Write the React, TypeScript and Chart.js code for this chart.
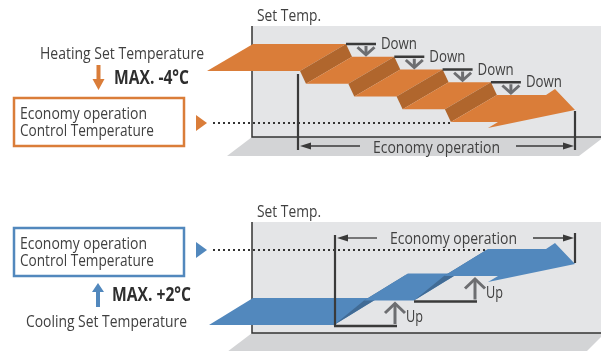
import React, { useEffect, useRef } from "react";
import { Chart, registerables } from "chart.js";

Chart.register(...registerables);

// ---------------- DATA ----------------
const heatingLevels = [0, -1, -2, -3, -4]; // °C relative to the heating set temperature
const coolingLevels = [0, 1, 2]; // °C relative to the cooling set temperature
const heatingStepLabels = ["Down", "Down", "Down", "Down"];
const coolingStepLabels = ["Up", "Up"];
const axisTitle = "Set Temp.";
const periodTitle = "Economy operation";
const controlLines = ["Economy operation", "Control Temperature"];
const heatingTitle = "Heating Set Temperature";
const heatingMaxText = "MAX. -4°C";
const coolingTitle = "Cooling Set Temperature";
const coolingMaxText = "MAX. +2°C";

// ---------------- STYLE ----------------
const COL = {
  orange: "#da7d39",
  orangeDark: "#b0662d",
  blue: "#5288bd",
  blueDark: "#416b95",
  wall: "#e4e5e7",
  floor: "#d3d4d6",
  ink: "#3a3a3a",
  edge: "#333333",
  text: "#404040",
  bold: "#2e2e2e",
  arrow: "#6d6e71",
};
const FONT = "'Open Sans', 'Noto Sans', sans-serif";
const REG_FONT = `17px ${FONT}`;
const BOLD_FONT = `bold 19.5px ${FONT}`;

// ---------------- LAYOUT (diagram units) ----------------
type P = [number, number];
const HEAT = {
  wallX: 252, wallTop: 26, floorY: 137, floorLeft: 227, floorRightTop: 604, floorRightBot: 579, floorBot: 156,
  startX: 253, topY: 44, pxPerDeg: 12.75, firstTR: 346, trSpacing: 48.3, riserDx: 6, depthDx: -46, depth: 27, tipX: 575,
  fill: COL.orange, riser: COL.orangeDark,
  ecoStart: 298, ecoStartTop: 74, ecoEnd: 575, ecoEndTop: 111, ecoBottom: 150, ecoArrowY: 146,
  ecoLeftEnd: 360, ecoRightStart: 516, ecoTextX: 373, ecoTextY: 152.7,
  dotY: 123, dotX0: 213, dotX1: 451,
  boxTop: 98, boxBottom: 146, boxText1: 119.3, boxText2: 136,
  axisY: 20.7,
};
const COOL = {
  wallX: 252, wallTop: 222, floorY: 333, floorLeft: 227, floorRightTop: 605, floorRightBot: 586, floorBot: 352,
  startX: 253, topY: 298, pxPerDeg: 24.5, firstTR: 378, trSpacing: 80, riserDx: 30, depthDx: -44, depth: 27, tipX: 575,
  fill: COL.blue, riser: COL.blueDark,
  ecoStart: 335, ecoStartTop: 235, ecoEnd: 575, ecoEndTop: 233, ecoBottom: 326, ecoEndBottom: 263, ecoArrowY: 238,
  ecoLeftEnd: 377, ecoRightStart: 533, ecoTextX: 390, ecoTextY: 244,
  dotY: 250, dotX0: 213, dotX1: 488,
  boxTop: 228, boxBottom: 276, boxText1: 249, boxText2: 266,
  axisY: 216.7,
};

// ---------------- helpers ----------------
const pts = (p: P[]) => p.map(([x, y]) => ({ x, y }));
const poly = (p: P[], color: string) => ({
  data: pts(p),
  fill: "shape",
  backgroundColor: color,
  borderColor: "rgba(0,0,0,0)",
  borderWidth: 0,
  pointRadius: 0,
});
const path = (p: P[], color: string, width: number, dash: number[] = []) => ({
  data: pts(p),
  fill: false,
  borderColor: color,
  borderWidth: width,
  borderDash: dash,
  borderCapStyle: "butt",
  borderJoinStyle: "miter",
  pointRadius: 0,
});

type T = { text: string; x: number; y: number; w: number; font: string; color: string };
const texts: T[] = [];
const reg = (s: string, x: number, y: number, w: number) =>
  texts.push({ text: s, x, y, w, font: REG_FONT, color: COL.text });

function panelBase(L: any, out: any[]) {
  out.push(poly([[L.wallX, L.wallTop], [640, L.wallTop], [640, L.floorY], [L.wallX, L.floorY]], COL.wall));
  out.push(poly([[L.floorLeft, L.floorBot], [L.wallX, L.floorY], [L.floorRightTop, L.floorY], [L.floorRightBot, L.floorBot]], COL.floor));
  out.push(path([[L.wallX, L.wallTop], [L.wallX, L.floorY], [640, L.floorY]], COL.edge, 1.5));
  out.push(path([[L.dotX0, L.dotY], [L.dotX1, L.dotY]], COL.edge, 2, [2, 3]));
  reg(axisTitle, 257, L.axisY, 64);
}

function stairs(levels: number[], L: any, out: any[]) {
  const tops = levels.map((v) => L.topY - v * L.pxPerDeg);
  const trs = levels.map((_, k) => L.firstTR + k * L.trSpacing);
  const tls = levels.map((_, k) => (k === 0 ? L.startX : trs[k - 1] + L.riserDx));
  const D = L.depthDx, H = L.depth;
  levels.forEach((_, k) => {
    const t = tops[k], a = tls[k];
    if (k < levels.length - 1) {
      const b = trs[k];
      out.push(poly([[a, t], [b, t], [b + D, t + H], [a + D, t + H]], L.fill));
      const tn = tops[k + 1], an = b + L.riserDx;
      out.push(poly([[b + D, t + H], [b, t], [an, tn], [an + D, tn + H]], L.riser));
    } else {
      const X = L.tipX;
      out.push(poly([[a, t], [X - 29, t], [X - 20, t - 6], [X, t + 15], [X - 87, t + 33], [X - 77, t + 27], [a + D, t + H]], L.fill));
    }
  });
  return { tops, trs };
}

function ecoSpan(L: any, out: any[]) {
  out.push(path([[L.ecoStart, L.ecoStartTop], [L.ecoStart, L.ecoBottom]], COL.ink, 2.2));
  out.push(path([[L.ecoEnd, L.ecoEndTop], [L.ecoEnd, L.ecoEndBottom ?? L.ecoBottom]], COL.ink, 2.2));
  const y = L.ecoArrowY;
  const x0 = L.ecoStart + 2, x1 = L.ecoEnd - 1;
  out.push(path([[x0 + 8, y], [L.ecoLeftEnd, y]], COL.ink, 1.3));
  out.push(poly([[x0, y], [x0 + 11, y - 3.5], [x0 + 11, y + 3.5]], COL.ink));
  out.push(path([[L.ecoRightStart, y], [x1 - 8, y]], COL.ink, 1.3));
  out.push(poly([[x1, y], [x1 - 11, y - 3.5], [x1 - 11, y + 3.5]], COL.ink));
  reg(periodTitle, L.ecoTextX, L.ecoTextY, 127);
}

function leftSide(L: any, color: string, out: any[]) {
  const yc = L.dotY;
  out.push(poly([[196, yc - 8], [207, yc], [196, yc + 8]], color));
  out.push(path([[14, L.boxTop], [184, L.boxTop], [184, L.boxBottom], [14, L.boxBottom], [14, L.boxTop - 1.25]], color, 2.5));
  reg(controlLines[0], 20, L.boxText1, 127);
  reg(controlLines[1], 20, L.boxText2, 134);
}

function buildDatasets() {
  const out: any[] = [];

  // ---------- heating panel ----------
  panelBase(HEAT, out);
  const h = stairs(heatingLevels, HEAT, out);
  heatingStepLabels.forEach((lab, k) => {
    const b = h.trs[k], t = h.tops[k], tn = h.tops[k + 1];
    out.push(path([[b, t], [b + 30, t]], COL.ink, 2.5));
    const ax = b + 20;
    out.push(path([[ax, t + 2], [ax, tn - 2]], COL.arrow, 3));
    out.push(path([[ax - 8.5, tn - 9.5], [ax, tn - 2], [ax + 8.5, tn - 9.5]], COL.arrow, 3));
    reg(lab, b + 35, t + 5, 36);
  });
  ecoSpan(HEAT, out);
  leftSide(HEAT, COL.orange, out);
  out.push(poly([[96.5, 65], [100.5, 65], [100.5, 79], [104.5, 79], [98.5, 90], [92.5, 79], [96.5, 79]], COL.orange));
  reg(heatingTitle, 40, 59.3, 164);
  texts.push({ text: heatingMaxText, x: 114, y: 84, w: 75, font: BOLD_FONT, color: COL.bold });

  // ---------- cooling panel ----------
  panelBase(COOL, out);
  const c = stairs(coolingLevels, COOL, out);
  coolingStepLabels.forEach((lab, k) => {
    const cx = c.trs[k] + COOL.depthDx;
    const base = c.tops[k] + COOL.depth;
    const nb = c.tops[k + 1] + COOL.depth;
    out.push(path([[cx, base + 1], [cx + 63, base + 1]], COL.ink, 2.5));
    const ax = cx + 61;
    out.push(path([[ax, base - 1], [ax, nb + 3]], COL.arrow, 3));
    out.push(path([[ax - 10, nb + 12.5], [ax, nb + 3], [ax + 10, nb + 12.5]], COL.arrow, 3));
    reg(lab, cx + 72, base - 3, 17);
  });
  ecoSpan(COOL, out);
  leftSide(COOL, COL.blue, out);
  out.push(poly([[98, 283], [104, 292], [100, 292], [100, 307], [96, 307], [96, 292], [92, 292]], COL.blue));
  reg(coolingTitle, 26, 326.7, 161);
  texts.push({ text: coolingMaxText, x: 112, y: 301, w: 79, font: BOLD_FONT, color: COL.bold });

  return out.map((d, i) => ({ ...d, order: -i }));
}

const textPlugin = {
  id: "diagramText",
  afterDatasetsDraw(chart: any) {
    const { ctx, scales } = chart;
    const sx = scales.x, sy = scales.y;
    for (const t of texts) {
      ctx.save();
      ctx.font = t.font;
      ctx.fillStyle = t.color;
      ctx.textBaseline = "alphabetic";
      ctx.textAlign = "left";
      const m = ctx.measureText(t.text).width;
      const px = sx.getPixelForValue(t.x);
      const py = sy.getPixelForValue(t.y);
      const pw = sx.getPixelForValue(t.x + t.w) - px;
      ctx.translate(px, py);
      ctx.scale(pw / m, 1);
      ctx.fillText(t.text, 0, 0);
      ctx.restore();
    }
  },
};

export default function App() {
  const ref = useRef<HTMLCanvasElement>(null);
  useEffect(() => {
    texts.length = 0;
    const datasets = buildDatasets();
    const chart = new Chart(ref.current as HTMLCanvasElement, {
      type: "line",
      data: { datasets } as any,
      options: {
        animation: false,
        responsive: false,
        devicePixelRatio: 1,
        events: [],
        layout: { padding: 0, autoPadding: false },
        plugins: {
          legend: { display: false },
          tooltip: { enabled: false },
          title: { display: false },
        },
        scales: {
          x: { type: "linear", min: 0, max: 601, display: false },
          y: { type: "linear", min: 0, max: 351, reverse: true, display: false },
        },
      } as any,
      plugins: [textPlugin],
    });
    return () => chart.destroy();
  }, []);
  return (
    <div style={{ position: "absolute", left: 0, top: 0, width: 601, height: 351, background: "#fff" }}>
      <canvas ref={ref} width={601} height={351} style={{ display: "block", width: 601, height: 351 }} />
    </div>
  );
}
